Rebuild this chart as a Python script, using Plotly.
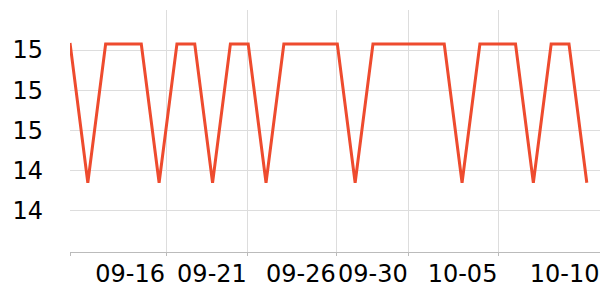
import plotly.graph_objects as go

# Data
dates = ["09-11", "09-12", "09-13", "09-14", "09-15", "09-16", "09-17", "09-18",
         "09-19", "09-20", "09-21", "09-22", "09-23", "09-24", "09-25", "09-26",
         "09-27", "09-28", "09-29", "09-30", "10-01", "10-02", "10-03", "10-04",
         "10-05", "10-06", "10-07", "10-08", "10-09", "10-10"]
H = 15.03
L = 14.34
values = [15.035, L, H, H, H, L, H, H, L, H,
          H, L, H, H, H, H, L, H, H, H,
          H, H, L, H, H, H, L, H, H, L]

# x tick positions (in point-index units) and labels
tick_pos = [0, 5.39, 9.98, 14.97, 19.01, 24.04]
tick_text = ["", "09-16", "09-21", "09-26", "09-30", "10-05"]
edge_tick_pos = [29.74]
edge_tick_text = ["10-10"]

y_ticks = [14.2, 14.4, 14.6, 14.8, 15.0]

x = list(range(len(values)))
x_range = [0, 29.74]

fig = go.Figure()
fig.add_trace(go.Scatter(
    x=x, y=values, mode="lines",
    line=dict(color="#EE4B2E", width=3),
    customdata=dates,
    hovertemplate="%{customdata}: %{y}<extra></extra>",
))
# invisible helper trace so the label-only axis is rendered
fig.add_trace(go.Scatter(
    x=[x[0]], y=[values[0]], xaxis="x2", mode="markers",
    marker=dict(opacity=0), hoverinfo="skip", showlegend=False,
))

fig.update_layout(
    width=600, height=300,
    margin=dict(l=70, r=0, t=10, b=48),
    paper_bgcolor="white", plot_bgcolor="white",
    showlegend=False,
    font=dict(family="DejaVu Sans", size=24, color="black"),
    xaxis=dict(
        range=x_range, automargin=False,
        tickmode="array", tickvals=tick_pos, ticktext=tick_text,
        ticklabelposition="outside left", tickangle=0,
        showgrid=True, gridcolor="#dddddd", gridwidth=1,
        showline=True, linecolor="#bbbbbb", linewidth=1,
        ticks="outside", ticklen=3, tickcolor="#bbbbbb",
        zeroline=False,
    ),
    xaxis2=dict(
        range=x_range, automargin=False, overlaying="x", anchor="y", side="bottom",
        tickmode="array", tickvals=edge_tick_pos, ticktext=edge_tick_text,
        ticklabelposition="outside left", tickangle=0,
        showgrid=False, showline=False, zeroline=False,
        ticks="outside", ticklen=3, tickcolor="rgba(0,0,0,0)",
    ),
    yaxis=dict(
        range=[13.996, 15.199], automargin=False,
        tickmode="array", tickvals=y_ticks, tickformat=".0f",
        showgrid=True, gridcolor="#dddddd", gridwidth=1,
        showline=False, ticks="", zeroline=False,
        ticklabelstandoff=26,
    ),
)

fig.write_html("out.html")
